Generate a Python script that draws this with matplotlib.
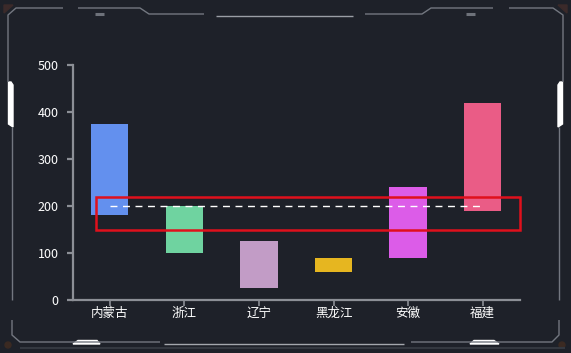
import matplotlib
matplotlib.use("Agg")
import matplotlib.pyplot as plt
from matplotlib.patches import Rectangle, Polygon, Circle

plt.rcParams['font.family'] = ['Noto Sans CJK SC', 'DejaVu Sans']

provinces = ["内蒙古", "浙江", "辽宁", "黑龙江", "安徽", "福建"]
low = [180, 100, 25, 60, 90, 190]
high = [375, 200, 125, 90, 240, 420]
colors = ["#6390ee", "#6fd3a0", "#c29cc6", "#e6b620", "#dc5ce8", "#ea5c86"]
yticks = [0, 100, 200, 300, 400, 500]
avg_line = 200
band = (150, 220)

BG = "#1e2129"
AXIS = "#8c8f96"
FRAME = "#737780"

W, H = 571, 353
fig = plt.figure(figsize=(W / 100, H / 100), dpi=100, facecolor=BG)

# ---- decorative frame, drawn in pixel coords ---------------------------
deco = fig.add_axes([0, 0, 1, 1], zorder=0)
deco.set_xlim(0, W); deco.set_ylim(H, 0); deco.axis("off")
deco.set_facecolor("none")

def seg(xs, ys, c=FRAME, lw=1.0, **kw):
    deco.plot(xs, ys, color=c, lw=lw, solid_capstyle="butt", **kw)

# top
seg([8, 8, 16, 63], [82, 15, 8, 8])
seg([78, 140, 149, 204], [8, 8, 14, 14])
seg([216, 353], [15.5, 15.5], c="#9a9ea5")
seg([365, 422, 431, 493], [14, 14, 8, 8])
seg([509, 553, 563, 563], [8, 8, 15, 82])
seg([95, 104], [14, 14], c="#6e727a", lw=2.2)
seg([466, 475], [14, 14], c="#6e727a", lw=2.2)
deco.add_patch(Polygon([[4, 5], [13, 5], [4, 13]], closed=True, color="#3b2a2a"))
deco.add_patch(Polygon([[567, 5], [558, 5], [567, 13]], closed=True, color="#3b2a2a"))
# sides
seg([12, 12], [127, 300])
seg([12, 12, 20, 160], [320, 335, 342, 342])
seg([559, 559], [127, 300])
seg([559, 559, 552, 411], [320, 335, 342, 342])
deco.add_patch(Polygon([[8.5, 82], [11, 82], [13, 85], [13, 127], [8.5, 124]], closed=True, color="white"))
deco.add_patch(Polygon([[562.5, 82], [560, 82], [558, 85], [558, 127], [562.5, 124]], closed=True, color="white"))
# bottom
seg([164, 404], [344, 344], c="#a4a7ad")
seg([20, 565], [347.5, 347.5], c="#343840", lw=1.5)
deco.add_patch(Polygon([[73, 344], [100, 344], [97, 340.5], [78, 340.5]], closed=True, color="white"))
deco.add_patch(Polygon([[470, 344], [499, 344], [494, 340.5], [474, 340.5]], closed=True, color="white"))
deco.add_patch(Circle((8, 345), 3, color="#3b2a22"))
deco.add_patch(Circle((562, 345), 3, color="#3b2a22"))

# ---- main chart ----------------------------------------------------------
ax = fig.add_axes([72.5 / W, 1 - 300 / H, (520 - 72.5) / W, (300 - 65) / H], zorder=1)
ax.set_facecolor("none")
x = range(len(provinces))
ax.bar(x, [h - l for h, l in zip(high, low)], bottom=low, width=0.5,
       color=colors, zorder=2)
ax.plot([0, len(provinces) - 1], [avg_line, avg_line], color="white", lw=1,
        dashes=(5, 4), zorder=3)
ax.add_patch(Rectangle((-0.185, band[0]), len(provinces) - 0.5 + 0.185, band[1] - band[0],
                       fill=False, edgecolor="#e0101c", lw=1.8, zorder=4, clip_on=False))

ax.set_xlim(-0.5, len(provinces) - 0.5)
ax.set_ylim(0, 500)
ax.set_yticks(yticks)
ax.set_xticks(list(x))
ax.set_xticklabels(provinces)
for s in ["top", "right"]:
    ax.spines[s].set_visible(False)
for s in ["left", "bottom"]:
    ax.spines[s].set_color(AXIS)
    ax.spines[s].set_linewidth(1.6)
ax.tick_params(axis="y", colors=AXIS, labelcolor="white", labelsize=9, length=4, width=1.6, pad=6)
ax.tick_params(axis="x", colors=AXIS, labelcolor="white", labelsize=9, length=4, width=1.2, pad=1)

fig.savefig("out.png", dpi=100, facecolor=BG)
